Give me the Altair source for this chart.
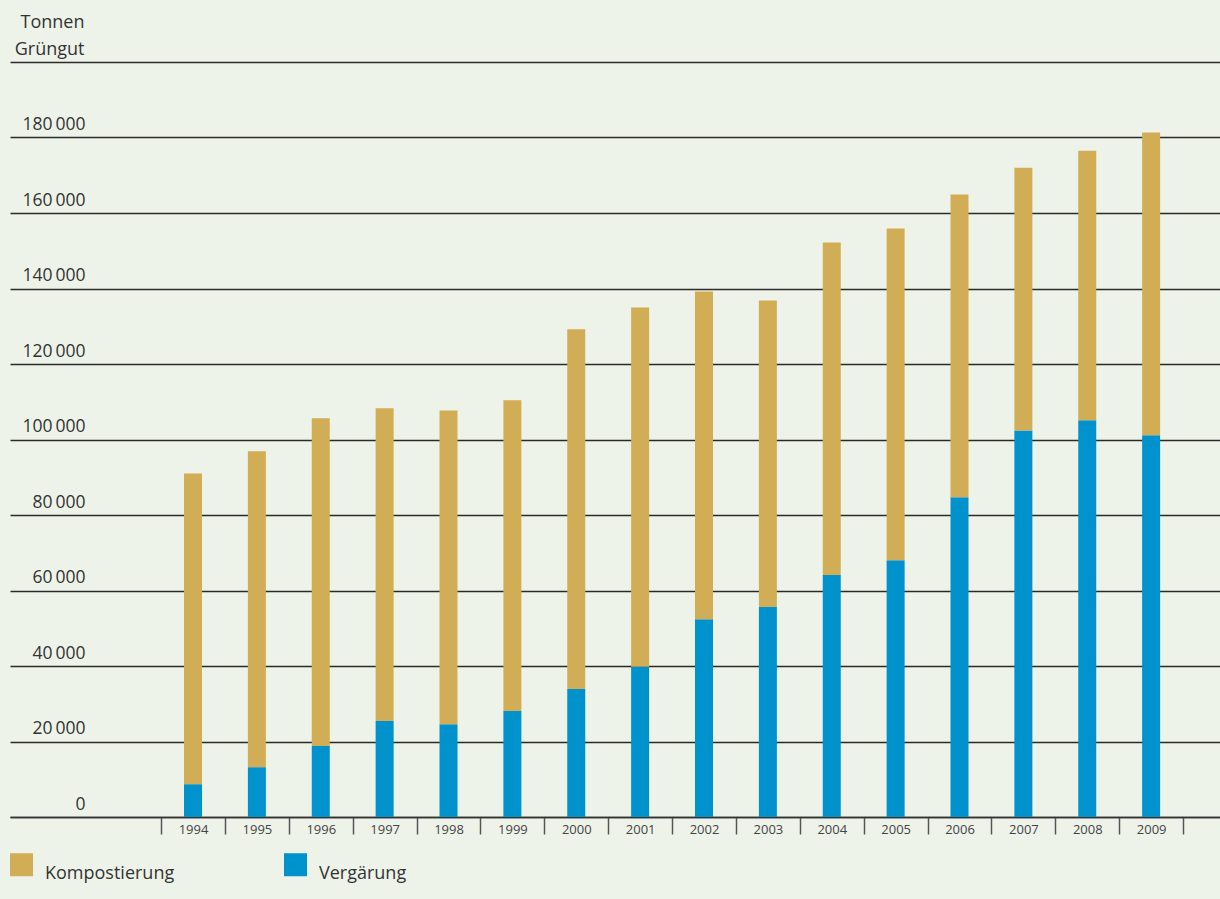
import altair as alt
import pandas as pd

years = list(range(1994, 2010))
vergaerung = [8700, 13200, 18800, 25400, 24600, 28100, 33900, 39800,
              52400, 55600, 64100, 68000, 84700, 102400, 105100, 101100]
kompostierung = [82300, 83700, 86800, 82900, 83100, 82300, 95300, 95200,
                 86800, 81200, 88100, 87900, 80200, 69600, 71400, 80200]
series = ["Kompostierung", "Vergärung"]
colors = ["#D1AD55", "#0092CD"]
y_ticks = [0, 20000, 40000, 60000, 80000, 100000, 120000, 140000, 160000, 180000, 200000]
x_ticks = years + [2010]

rows = []
for i, yr in enumerate(years):
    rows.append({"Jahr": yr, "Art": "Vergärung", "Tonnen": vergaerung[i], "ord": 0})
    rows.append({"Jahr": yr, "Art": "Kompostierung", "Tonnen": kompostierung[i], "ord": 1})
df = pd.DataFrame(rows)

FONT = "Open Sans"
step = 63.875
d0 = 1994 - 183 / step
d1 = d0 + 1210 / step

chart = alt.Chart(df).mark_bar(size=18).encode(
    x=alt.X("Jahr:Q",
            scale=alt.Scale(domain=[d0, d1], nice=False, zero=False, padding=0),
            axis=alt.Axis(values=x_ticks, title=None, grid=False,
                          tickOffset=-step / 2, labelOffset=step / 2,
                          tickSize=17, tickColor="#555555", tickWidth=1.5,
                          domain=True, domainColor="#333333", domainWidth=1.5,
                          labelExpr="datum.value > 2009 ? '' : datum.value",
                          labelFontSize=13, labelColor="#444444", labelFont=FONT,
                          labelPadding=-11, labelFlush=False, labelOverlap=False)),
    y=alt.Y("Tonnen:Q", stack="zero",
            scale=alt.Scale(domain=[0, 200000], nice=False),
            axis=alt.Axis(values=y_ticks, grid=True, gridColor="#2a2a2a", gridWidth=1.3,
                          domain=False, ticks=False,
                          labelExpr="datum.value >= 200000 ? '' : replace(format(datum.value, ','), ',', '\u2009')",
                          labelAlign="right", labelPadding=-75, labelBaseline="alphabetic",
                          labelOffset=-8, labelFontSize=17.5, labelColor="#333333",
                          labelFont=FONT, labelFlush=False, labelOverlap=False, labelBound=False,
                          title=["Tonnen", "Grüngut"], titleAngle=0, titleAlign="right",
                          titleBaseline="alphabetic", titleX=74, titleY=-35,
                          titleLineHeight=27, titleFontSize=18, titleFontWeight="normal",
                          titleColor="#333333", titleFont=FONT)),
    color=alt.Color("Art:N",
                    scale=alt.Scale(domain=series, range=colors),
                    legend=alt.Legend(title=None, orient="none", legendX=0, legendY=791,
                                      direction="horizontal", symbolType="square",
                                      symbolSize=529, symbolStrokeWidth=0, symbolOpacity=1,
                                      labelFontSize=18, labelColor="#333333", labelFont=FONT,
                                      labelBaseline="top",
                                      labelOffset=12, columnPadding=109, padding=0)),
    order=alt.Order("ord:Q", sort="ascending"),
).properties(
    width=1210, height=755,
    background="#EEF3EA",
    padding={"left": 10, "top": 62, "right": 0, "bottom": 82},
    autosize=alt.AutoSizeParams(type="none"),
).configure_view(stroke=None)

chart.save("out.html", embed_options={"renderer": "svg", "actions": False})
